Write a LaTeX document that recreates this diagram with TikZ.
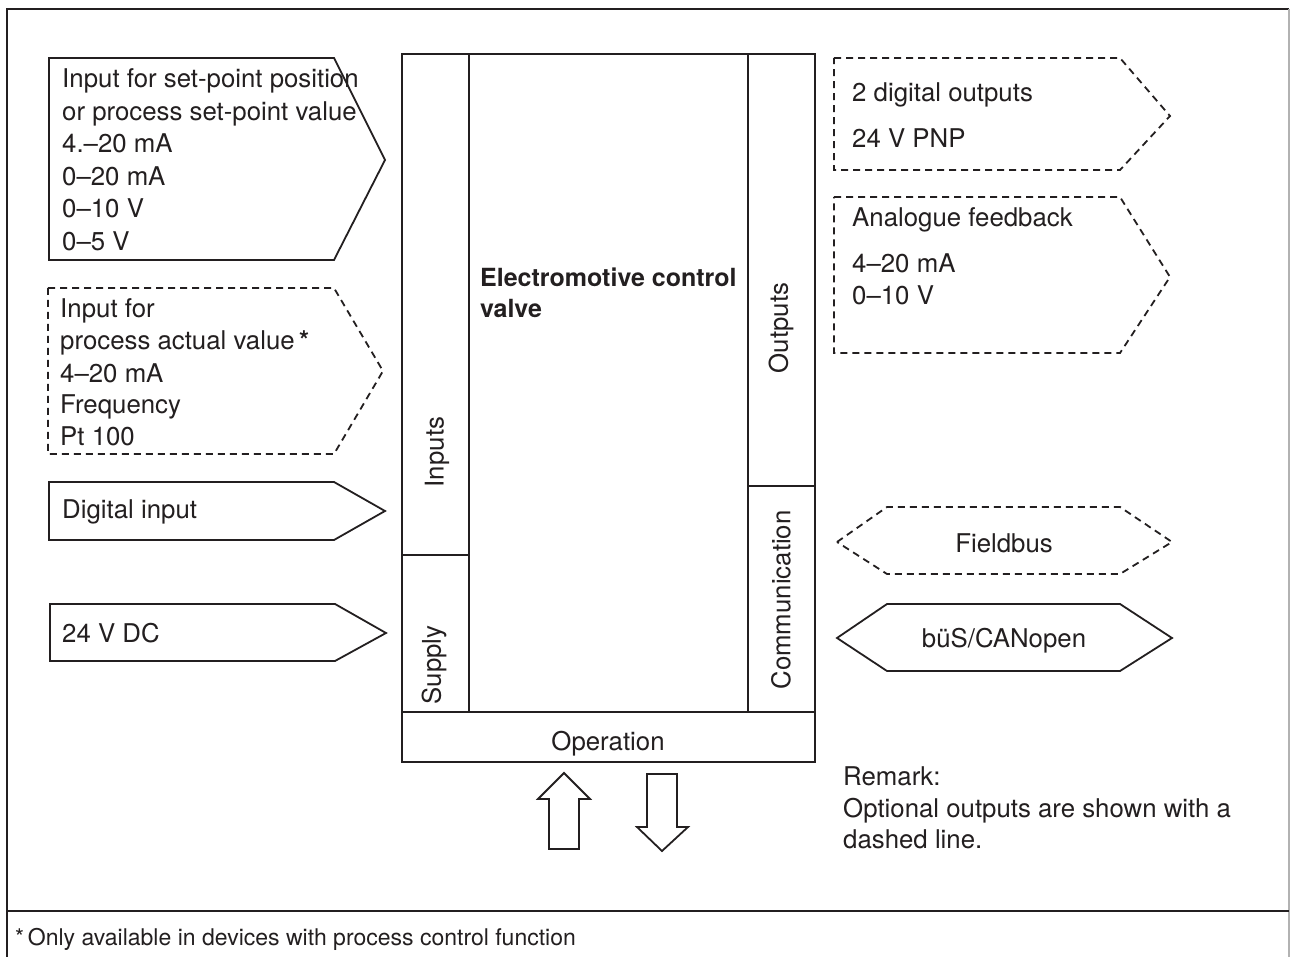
\documentclass[tikz,border=0pt]{standalone}
\usepackage{fontspec}
\setmainfont{TeX Gyre Heros}
\definecolor{ink}{HTML}{231F20}
\begin{document}
\begin{tikzpicture}[x=1pt,y=-1pt,line join=miter,
  solidline/.style={draw=ink, line width=1.8pt},
  dashline/.style={draw=ink, line width=1.8pt, dash pattern=on 7pt off 5pt},
  txt/.style={anchor=base west, inner sep=0pt, text=ink, font=\fontsize{25.8}{32}\selectfont},
  ctxt/.style={anchor=base, inner sep=0pt, text=ink, font=\fontsize{25.8}{32}\selectfont},
  btxt/.style={anchor=base west, inner sep=0pt, text=ink, font=\fontsize{25}{32}\selectfont\bfseries},
  rtxt/.style={anchor=center, inner sep=0pt, rotate=90, text=ink, font=\fontsize{25.8}{32}\selectfont},
  foot/.style={anchor=base west, inner sep=0pt, text=ink, font=\fontsize{23}{26}\selectfont}]
\useasboundingbox (0,0) rectangle (1290,957);
\fill[white] (0,0) rectangle (1290,957);
% frame
\draw[ink, line width=2.8pt] (7,957) -- (7,9) -- (1289,9);
\draw[black!30, line width=1.2pt] (1289,9) -- (1289,957);
\draw[ink, line width=2pt] (7,911) -- (1289,911);

% left input boxes
\draw[solidline] (49,58) -- (334,58) -- (385,160) -- (334,260) -- (49,260) -- cycle;
\node[txt] (sp1) at (62,88) {Input for set-point position};
\node[txt] (sp2) at (62,120.5) {or process set-point value};
\node[txt] (sp3) at (62,153) {4.–20 mA};
\node[txt] (sp4) at (62,186) {0–20 mA};
\node[txt] (sp5) at (62,218) {0–10 V};
\node[txt] (sp6) at (62,251) {0–5 V};

\draw[dashline] (48,288) -- (334,288) -- (383,371) -- (334,454) -- (48,454) -- cycle;
\node[txt] (pv1) at (60,318) {Input for};
\node[txt] (pv2) at (60,350) {process actual value\,\textbf{*}};
\node[txt] (pv3) at (60,382) {4–20 mA};
\node[txt] (pv4) at (60,413) {Frequency};
\node[txt] (pv5) at (60,445) {Pt 100};

\draw[solidline] (49,482) -- (334,482) -- (385,511) -- (334,540) -- (49,540) -- cycle;
\node[txt] (di) at (62,518) {Digital input};

\draw[solidline] (50,604) -- (335,604) -- (386,633) -- (335,661) -- (50,661) -- cycle;
\node[txt] (dc) at (62,642) {24 V DC};

% main block
\draw[solidline] (402,54) rectangle (815,762);
\draw[solidline] (469,54) -- (469,712);
\draw[solidline] (748,54) -- (748,712);
\draw[solidline] (402,712) -- (815,712);
\draw[solidline] (402,555) -- (469,555);
\draw[solidline] (748,486) -- (815,486);
\node[btxt] (ecv1) at (480,287) {Electromotive control};
\node[btxt] (ecv2) at (480,318) {valve};
\node[rtxt] (inp) at (437,452) {Inputs};
\node[rtxt] (sup) at (434,665) {Supply};
\node[rtxt] (outp) at (781,328) {Outputs};
\node[rtxt] (comm) at (781,600) {Communication};
\node[ctxt] (op) at (608,750) {Operation};

% operation arrows
\draw[solidline] (549,849) -- (549,799) -- (538,799) -- (564,773) -- (590,799) -- (579,799) -- (579,849) -- cycle;
\draw[solidline] (647,774) -- (677,774) -- (677,827) -- (688,827) -- (662,851) -- (637,827) -- (647,827) -- cycle;

% right output boxes
\draw[dashline] (834,58) -- (1120,58) -- (1170,116) -- (1120,170) -- (834,170) -- cycle;
\node[txt] (do1) at (852,102) {2 digital outputs};
\node[txt] (do2) at (852,148) {24 V PNP};

\draw[dashline] (834,197) -- (1120,197) -- (1170,277) -- (1120,353) -- (834,353) -- cycle;
\node[txt] (af1) at (852,227) {Analogue feedback};
\node[txt] (af2) at (852,273) {4–20 mA};
\node[txt] (af3) at (852,305) {0–10 V};

\draw[dashline] (837,542) -- (887,507) -- (1120,507) -- (1172,542) -- (1120,574) -- (887,574) -- cycle;
\node[ctxt] (fb) at (1004,552) {Fieldbus};

\draw[solidline] (837,638) -- (887,604) -- (1120,604) -- (1172,638) -- (1120,671) -- (887,671) -- cycle;
\node[ctxt] (bus) at (1004,647) {büS/CANopen};

% remark
\node[txt] (rm1) at (843,785) {Remark:};
\node[txt] (rm2) at (843,817) {Optional outputs are shown with a};
\node[txt] (rm3) at (843,848) {dashed line.};

% footnote
\node[foot] (fn) at (15,945) {*\,Only available in devices with process control function};
\end{tikzpicture}
\end{document}
